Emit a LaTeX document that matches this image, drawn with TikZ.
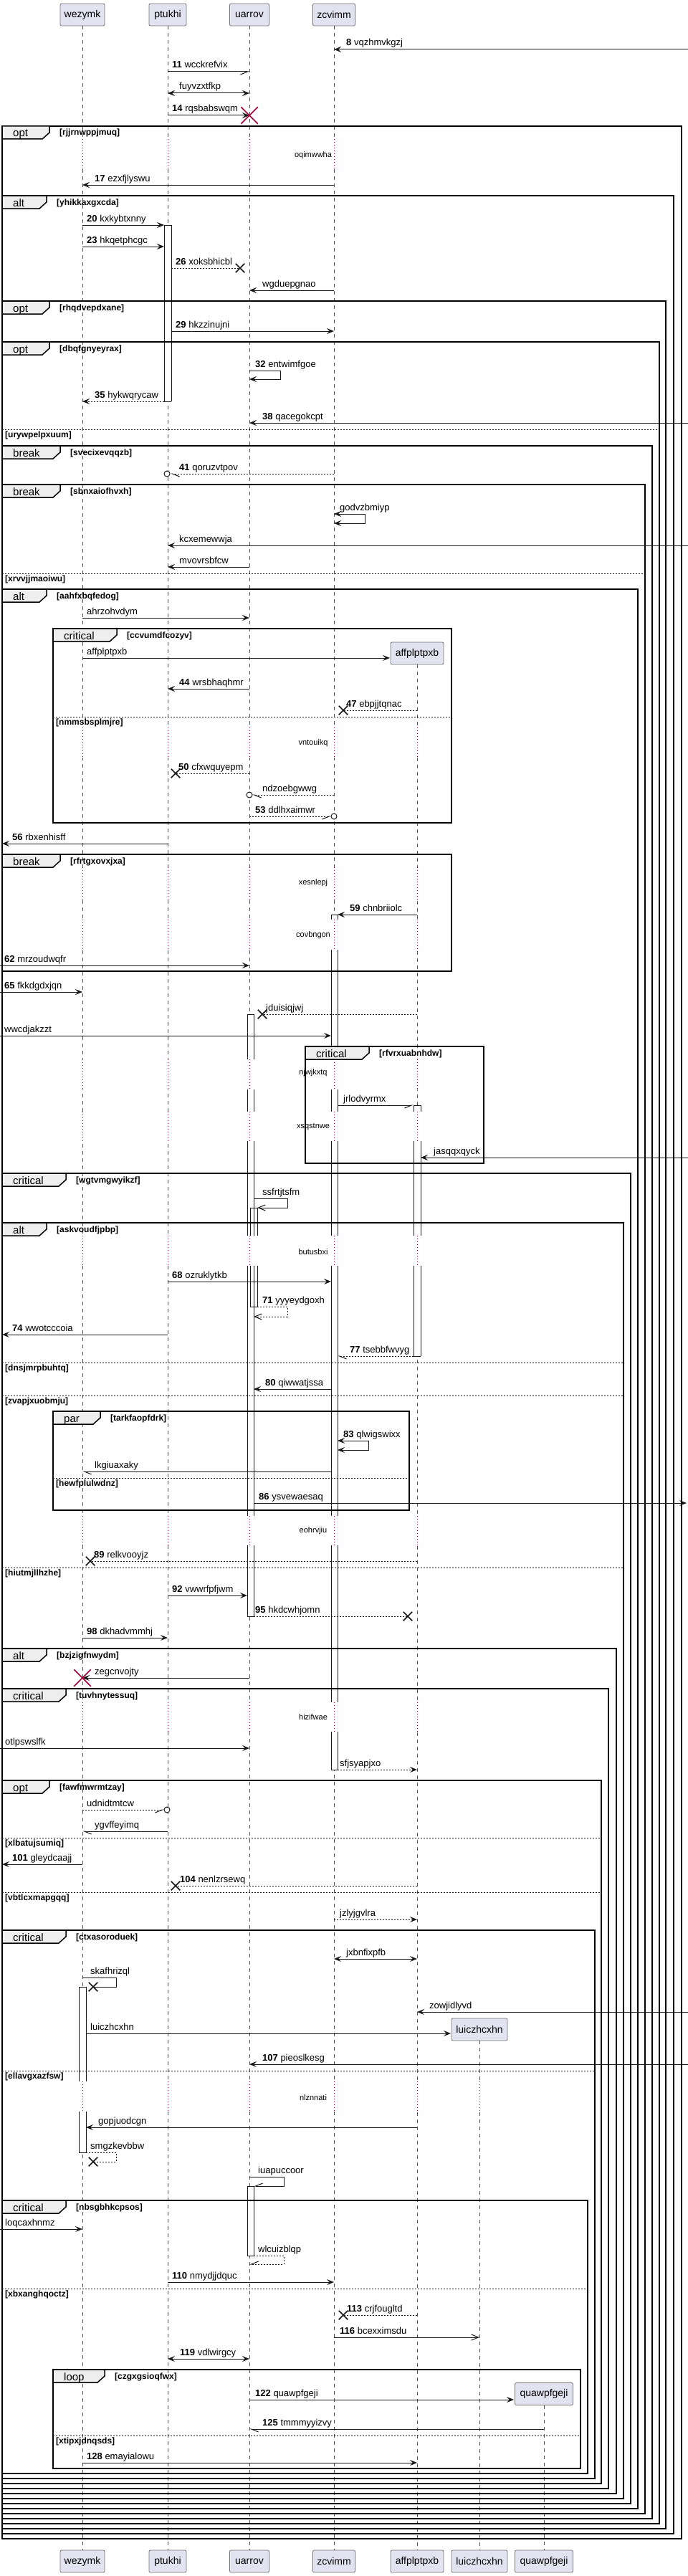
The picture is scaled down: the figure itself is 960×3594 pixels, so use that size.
\documentclass[tikz,border=0pt]{standalone}
\usepackage{fontspec}
\setmainfont{Liberation Sans}
\usetikzlibrary{arrows.meta,shapes.misc}
\definecolor{pbox}{HTML}{E2E2F0}
\definecolor{dcol}{HTML}{A80036}
\definecolor{tabc}{HTML}{EEEEEE}
\definecolor{ink}{HTML}{181818}
\newcommand\fsz[1]{\fontsize{#1}{#1}\selectfont}
\newcommand\sqmsg[7]{%
  \coordinate (#1s) at (#2,#4);
  \coordinate (#1e) at (#3,#4);
  \draw[msgl,#5] (#1s) -- (#1e);
  \node[lbl] (#1t) at (#6,#4-5) {#7};}
\newcommand\sqself[9]{%
  \coordinate (#1a) at (#2,#3);
  \coordinate (#1r) at (#5,#4);
  \coordinate (#1b) at (#6,#4);
  \draw[msgl,#7] (#1a) -| (#1r) -- (#1b);
  \node[lbl] (#1t) at (#8,#3-5) {#9};}
\newcommand\sqframe[4]{\draw[frm] (#1,#2) rectangle (#3,#4);}
\newcommand\sqtab[6]{%
  \filldraw[tabs] (#2,#3) -- ++(#4,0) -- ++(0,9) -- ++(-10,9) -- (#2,#3+18) -- cycle;
  \node[kwd] (#1k) at (#2+15,#3+15) {#5};
  \node[grd] (#1g) at (#2+#4+14,#3+13) {#6};}
\newcommand\sqelse[5]{%
  \draw[elsel] (#2,#4) -- (#3,#4);
  \node[grd] (#1) at (#2+4,#4+11.5) {#5};}
\newcommand\sqdelay[5]{%
  \foreach \xx in {#3}{\fill[white] (\xx-2.5,#1) rectangle (\xx+2.5,#2); \draw[dotl] (\xx,#1) -- (\xx,#2);}
  \node[dlytxt] (#4) at (437,#5) {#4};}
\newcommand\sqact[4]{\fill[white] (#1,#3) rectangle (#2,#4); \draw[actl] (#1,#3) -- (#1,#4) (#2,#3) -- (#2,#4);}
\newcommand\sqactn[4]{\draw[actl] (#1,#3) -- (#1,#4) (#2,#3) -- (#2,#4);}
\newcommand\sqhz[3]{\draw[actl] (#1,#3) -- (#2,#3);}
\tikzset{
 msgl/.style={draw=ink, line width=1pt},
 fa/.style={-{Stealth[length=10pt,width=8pt,inset=4pt]}},
 ba/.style={{Stealth[length=10pt,width=8pt,inset=4pt]}-{Stealth[length=10pt,width=8pt,inset=4pt]}},
 hr/.style={-{Straight Barb[right,length=10pt,width=8pt]}},
 hl/.style={-{Straight Barb[left,length=10pt,width=8pt]}},
 oa/.style={-{Straight Barb[length=10pt,width=8pt]}},
 dt/.style={dash pattern=on 2pt off 2pt},
 lbl/.style={anchor=base west, inner sep=0pt, font=\fsz{13}, text=black},
 dlytxt/.style={inner sep=0pt, font=\fsz{11}},
 grd/.style={anchor=base west, inner sep=0pt, font=\fsz{12}\bfseries},
 kwd/.style={anchor=base west, inner sep=0pt, font=\fsz{15}},
 pbx/.style={draw=black!55, fill=pbox, line width=0.8pt, rounded corners=2pt, minimum height=31pt, inner sep=0pt, font=\fsz{14}},
 life/.style={draw=ink!75, line width=0.8pt, dash pattern=on 5pt off 5pt},
 dotl/.style={draw=dcol, line width=1pt, dash pattern=on 1pt off 3pt},
 actl/.style={draw=ink, line width=1pt},
 frm/.style={draw=black, line width=1.5pt},
 tabs/.style={draw=black, fill=tabc, line width=1.5pt},
 elsel/.style={draw=ink, line width=1pt, dash pattern=on 2pt off 2pt},
 bx/.style={cross out, draw=ink, line width=1.5pt, minimum size=11pt, inner sep=0pt},
 rx/.style={cross out, draw=dcol, line width=1.5pt, minimum size=22pt, inner sep=0pt},
 co/.style={circle, draw=ink, line width=1pt, minimum size=8pt, inner sep=0pt, fill=white},
}
\begin{document}
\begin{tikzpicture}[x=1pt,y=-1pt]
\useasboundingbox (0,0) rectangle (960,3594);
\fill[white] (0,0) rectangle (960,3594);
% participants
\node[pbx, minimum width=62pt] (pWt) at (115,20.5) {wezymk};
\node[pbx, minimum width=52pt] (pPt) at (234,20.5) {ptukhi};
\node[pbx, minimum width=55pt] (pUt) at (348,20.5) {uarrov};
\node[pbx, minimum width=59pt] (pZt) at (466,20.5) {zcvimm};
\node[pbx, minimum width=62pt] (pWb) at (115,3573.5) {wezymk};
\node[pbx, minimum width=52pt] (pPb) at (234,3573.5) {ptukhi};
\node[pbx, minimum width=55pt] (pUb) at (348,3573.5) {uarrov};
\node[pbx, minimum width=59pt] (pZb) at (466,3573.5) {zcvimm};
\node[pbx, minimum width=74pt] (pAb) at (582,3573.5) {affplptpxb};
\node[pbx, minimum width=78pt] (pLb) at (669,3573.5) {luiczhcxhn};
\node[pbx, minimum width=81pt] (pQb) at (759,3573.5) {quawpfgeji};
\node[pbx, minimum width=74pt] (pAc) at (582,911.5) {affplptpxb};
\node[pbx, minimum width=78pt] (pLc) at (669,2831.5) {luiczhcxhn};
\node[pbx, minimum width=81pt] (pQc) at (759,3340) {quawpfgeji};
% lifelines
\draw[life] (pWt.south) -- (pWb.north);
\draw[life] (pPt.south) -- (pPb.north);
\draw[life] (pUt.south) -- (pUb.north);
\draw[life] (pZt.south) -- (pZb.north);
\draw[life] (pAc.south) -- (pAb.north);
\draw[life] (pLc.south) -- (pLb.north);
\draw[life] (pQc.south) -- (pQb.north);
% delays
\sqdelay{194}{235}{115,234,348,466}{oqimwwha}{217}
\sqdelay{1015}{1057}{115,234,348,466,582}{vntouikq}{1037}
\sqdelay{1210}{1255}{115,234,348,466,582}{xesnlepj}{1232}
\sqdelay{1283}{1325}{115,234,348,466,582}{covbngon}{1305}
\sqdelay{1478}{1520}{115,234,348,466,582}{njwjkxtq}{1497}
\sqdelay{1551}{1592}{115,234,348,466,582}{xsqstnwe}{1572}
\sqdelay{1724}{1766}{115,234,348,466,582}{butusbxi}{1747}
\sqdelay{2115}{2156}{115,234,348,466,582}{eohrvjiu}{2136}
\sqdelay{2375}{2416}{115,234,348,466,582}{hizifwae}{2396}
\sqdelay{2904}{2946}{115,234,348,466,582,669}{nlznnati}{2927}
% activations
\sqact{229}{239}{314}{560}\sqhz{229}{239}{314}\sqhz{229}{239}{560}
\sqact{462}{471}{1276}{1283}\sqact{462}{471}{1325}{1478}\sqact{462}{471}{1520}{1551}
\sqact{462}{471}{1592}{1724}\sqact{462}{471}{1766}{2115}\sqact{462}{471}{2156}{2375}
\sqact{462}{471}{2416}{2469}\sqhz{462}{471}{1276}\sqhz{462}{471}{2469}
\sqact{345}{354}{1415}{1478}\sqact{345}{354}{1520}{1551}\sqact{345}{354}{1592}{1724}
\sqact{345}{354}{1766}{2115}\sqact{345}{354}{2156}{2255}\sqhz{345}{354}{1415}\sqhz{345}{354}{2255}
\sqactn{349}{359}{1685}{1724}\sqactn{349}{359}{1766}{1823}\sqhz{349}{359}{1685}\sqhz{349}{359}{1823}
\sqact{577}{587}{1542}{1551}\sqact{577}{587}{1592}{1724}\sqact{577}{587}{1766}{1892}
\sqhz{577}{587}{1542}\sqhz{577}{587}{1892}
\sqact{110}{120}{2772}{2904}\sqact{110}{120}{2946}{3003}\sqhz{110}{120}{2772}\sqhz{110}{120}{3003}
\sqact{345}{354}{3050}{3147}\sqhz{345}{354}{3050}\sqhz{345}{354}{3147}
% frames
\sqframe{3}{176}{951}{3542}
\sqframe{3}{273}{940}{3535}
\sqframe{3}{420}{929}{3528}
\sqframe{3}{477}{920}{3521}
\sqframe{3}{622}{910}{3514}
\sqframe{3}{676}{900}{3507}
\sqframe{3}{822}{890}{3500}
\sqframe{74}{877}{630}{1148}
\sqframe{3}{1192}{630}{1355}
\sqframe{426}{1460}{675}{1623}
\sqframe{3}{1637}{880}{3493}
\sqframe{3}{1706}{870}{3486}
\sqframe{74}{1969}{571}{2107}
\sqframe{3}{2300}{860}{3479}
\sqframe{3}{2356}{849}{3472}
\sqframe{3}{2484}{839}{3465}
\sqframe{3}{2693}{830}{3458}
\sqframe{3}{3070}{820}{3451}
\sqframe{74}{3306}{810}{3444}
\sqtab{t1}{3}{176}{66}{opt}{[rjjrnwppjmuq]}
\sqtab{t2}{3}{273}{62}{alt}{[yhikkaxgxcda]}
\sqtab{t3}{3}{420}{66}{opt}{[rhqdvepdxane]}
\sqtab{t4}{3}{477}{66}{opt}{[dbqfgnyeyrax]}
\sqtab{t5}{3}{622}{81}{break}{[svecixevqqzb]}
\sqtab{t6}{3}{676}{81}{break}{[sbnxaiofhvxh]}
\sqtab{t7}{3}{822}{62}{alt}{[aahfxbqfedog]}
\sqtab{t8}{74}{877}{89}{critical}{[ccvumdfcozyv]}
\sqtab{t9}{3}{1192}{81}{break}{[rfrtgxovxjxa]}
\sqtab{t10}{426}{1460}{89}{critical}{[rfvrxuabnhdw]}
\sqtab{t11}{3}{1637}{89}{critical}{[wgtvmgwyikzf]}
\sqtab{t12}{3}{1706}{62}{alt}{[askvoudfjpbp]}
\sqtab{t13}{74}{1969}{66}{par}{[tarkfaopfdrk]}
\sqtab{t14}{3}{2300}{62}{alt}{[bzjzigfnwydm]}
\sqtab{t15}{3}{2356}{89}{critical}{[tuvhnytessuq]}
\sqtab{t16}{3}{2484}{66}{opt}{[fawfmwrmtzay]}
\sqtab{t17}{3}{2693}{89}{critical}{[ctxasoroduek]}
\sqtab{t18}{3}{3070}{89}{critical}{[nbsgbhkcpsos]}
\sqtab{t19}{74}{3306}{72}{loop}{[czgxgsioqfwx]}
\sqelse{e1}{3}{920}{599}{[urywpelpxuum]}
\sqelse{e2}{3}{900}{800}{[xrvvjjmaoiwu]}
\sqelse{e3}{74}{630}{1000}{[nmmsbsplmjre]}
\sqelse{e4}{3}{870}{1901}{[dnsjmrpbuhtq]}
\sqelse{e5}{3}{870}{1947}{[zvapjxuobmju]}
\sqelse{e6}{74}{571}{2062}{[hewfplulwdnz]}
\sqelse{e7}{3}{870}{2187}{[hiutmjllhzhe]}
\sqelse{e8}{3}{839}{2564}{[xlbatujsumiq]}
\sqelse{e9}{3}{839}{2640}{[vbtlcxmapgqq]}
\sqelse{e10}{3}{830}{2889}{[ellavgxazfsw]}
\sqelse{e11}{3}{820}{3193}{[xbxanghqoctz]}
\sqelse{e12}{74}{810}{3398}{[xtipxjdnqsds]}
% messages
\sqmsg{q1}{960}{466}{69}{fa}{483}{\textbf{8} vqzhmvkgzj}
\sqmsg{q2}{234}{348}{100}{hr}{240}{\textbf{11} wcckrefvix}
\sqmsg{q3}{234}{348}{130}{ba}{250}{fuyvzxtfkp}
\sqmsg{q4}{234}{348}{161}{fa}{240}{\textbf{14} rqsbabswqm}
\node[rx] (x4) at (348,161) {};
\sqmsg{q5}{466}{115}{258}{fa}{132}{\textbf{17} ezxfjlyswu}
\sqmsg{q6}{115}{229}{314}{fa}{121}{\textbf{20} kxkybtxnny}
\sqmsg{q7}{115}{229}{344}{fa}{121}{\textbf{23} hkqetphcgc}
\sqmsg{q8}{239}{335}{374}{dt}{245}{\textbf{26} xoksbhicbl}
\node[bx] (x8) at (335,374) {};
\sqmsg{q9}{466}{348}{405}{fa}{366}{wgduepgnao}
\sqmsg{q10}{239}{466}{462}{fa}{245}{\textbf{29} hkzzinujni}
\sqself{q11}{348}{517}{529}{391}{348}{fa}{356}{\textbf{32} entwimfgoe}
\sqmsg{q12}{229}{115}{560}{fa,dt}{132}{\textbf{35} hykwqrycaw}
\sqmsg{q13}{960}{348}{590}{fa}{366}{\textbf{38} qacegokcpt}
\sqmsg{q14}{466}{238}{661}{hl,dt}{250}{\textbf{41} qoruzvtpov}
\node[co] (c14) at (233,661) {};
\sqself{q15}{466}{717}{730}{509}{466}{ba}{474}{godvzbmiyp}
\sqmsg{q16}{960}{234}{761}{fa}{250}{kcxemewwja}
\sqmsg{q17}{348}{234}{791}{fa}{250}{mvovrsbfcw}
\sqmsg{q18}{115}{348}{862}{fa}{121}{ahrzohvdym}
\sqmsg{q19}{115}{544}{918}{fa}{121}{affplptpxb}
\sqmsg{q20}{348}{234}{961}{fa}{250}{\textbf{44} wrsbhaqhmr}
\sqmsg{q21}{582}{479}{991}{dt}{483}{\textbf{47} ebpjjtqnac}
\node[bx] (x21) at (479,991) {};
\sqmsg{q22}{348}{245}{1079}{dt}{249}{\textbf{50} cfxwquyepm}
\node[bx] (x22) at (245,1079) {};
\sqmsg{q23}{466}{352}{1109}{hl,dt}{366}{ndzoebgwwg}
\node[co] (c23) at (348,1109) {};
\sqmsg{q24}{348}{462}{1139}{hr,dt}{356}{\textbf{53} ddlhxaimwr}
\node[co] (c24) at (466,1139) {};
\sqmsg{q25}{234}{3}{1177}{fa}{17}{\textbf{56} rbxenhisff}
\sqmsg{q26}{582}{471}{1276}{fa}{488}{\textbf{59} chnbriiolc}
\sqmsg{q27}{0}{348}{1347}{fa}{6}{\textbf{62} mrzoudwqfr}
\sqmsg{q28}{0}{115}{1384}{fa}{6}{\textbf{65} fkkdgdxjqn}
\sqmsg{q29}{582}{366}{1415}{dt}{371}{jduisiqjwj}
\node[bx] (x29) at (366,1415) {};
\sqmsg{q30}{0}{462}{1445}{fa}{6}{wwcdjakzzt}
\sqmsg{q31}{471}{577}{1542}{hr}{479}{jrlodvyrmx}
\sqmsg{q32}{960}{587}{1615}{fa}{605}{jasqqxqyck}
\sqself{q33}{354}{1672}{1685}{401}{359}{oa}{366}{ssfrtjtsfm}
\sqmsg{q34}{234}{462}{1788}{fa}{240}{\textbf{68} ozruklytkb}
\sqself{q35}{359}{1823}{1837}{401}{354}{oa,dt}{366}{\textbf{71} yyyeydgoxh}
\sqmsg{q36}{234}{3}{1862}{fa}{17}{\textbf{74} wwotcccoia}
\sqmsg{q37}{577}{471}{1892}{hl,dt}{488}{\textbf{77} tsebbfwvyg}
\sqmsg{q38}{462}{354}{1938}{fa}{370}{\textbf{80} qiwwatjssa}
\sqself{q39}{471}{2010}{2023}{514}{471}{ba}{479}{\textbf{83} qlwigswixx}
\sqmsg{q40}{462}{115}{2053}{hl}{132}{lkgiuaxaky}
\sqmsg{q41}{354}{958}{2097}{fa}{361}{\textbf{86} ysvewaesaq}
\sqmsg{q42}{582}{126}{2178}{dt}{131}{\textbf{89} relkvooyjz}
\node[bx] (x42) at (126,2178) {};
\sqmsg{q43}{234}{345}{2226}{fa}{240}{\textbf{92} vwwrfpfjwm}
\sqmsg{q44}{354}{569}{2255}{dt}{356}{\textbf{95} hkdcwhjomn}
\node[bx] (x44) at (569,2255) {};
\sqmsg{q45}{115}{234}{2285}{fa}{121}{\textbf{98} dkhadvmmhj}
\sqmsg{q46}{348}{115}{2341}{fa}{132}{zegcnvojty}
\node[rx] (x46) at (115,2341) {};
\sqmsg{q47}{0}{348}{2439}{fa}{7}{otlpswslfk}
\sqmsg{q48}{471}{582}{2469}{fa,dt}{474}{sfjsyapjxo}
\sqmsg{q49}{115}{229}{2525}{hr,dt}{121}{udnidtmtcw}
\node[co] (c49) at (233,2525) {};
\sqmsg{q50}{234}{115}{2555}{hl}{132}{ygvffeyimq}
\sqmsg{q51}{115}{3}{2601}{fa}{17}{\textbf{101} gleydcaajj}
\sqmsg{q52}{582}{245}{2631}{dt}{251}{\textbf{104} nenlzrsewq}
\node[bx] (x52) at (245,2631) {};
\sqmsg{q53}{466}{582}{2678}{fa,dt}{474}{jzlyjgvlra}
\sqmsg{q54}{466}{582}{2733}{ba}{483}{jxbnfixpfb}
\sqself{q55}{115}{2759}{2772}{162}{130}{}{126}{skafhrizql}
\node[bx] (x55) at (130,2772) {};
\sqmsg{q56}{960}{582}{2807}{fa}{599}{zowjidlyvd}
\sqmsg{q57}{120}{629}{2837}{fa}{126}{luiczhcxhn}
\sqmsg{q58}{960}{348}{2880}{fa}{366}{\textbf{107} pieoslkesg}
\sqmsg{q59}{582}{120}{2968}{fa}{137}{gopjuodcgn}
\sqself{q60}{120}{3003}{3016}{162}{130}{dt}{126}{smgzkevbbw}
\node[bx] (x60) at (130,3016) {};
\sqself{q61}{348}{3037}{3050}{396}{354}{hr}{360}{iuapuccoor}
\sqmsg{q62}{0}{115}{3110}{fa}{7}{loqcaxhnmz}
\sqself{q63}{354}{3147}{3159}{396}{348}{hr,dt}{360}{wlcuizblqp}
\sqmsg{q64}{234}{466}{3184}{fa}{240}{\textbf{110} nmydjjdquc}
\sqmsg{q65}{582}{479}{3230}{dt}{484}{\textbf{113} crjfougltd}
\node[bx] (x65) at (479,3230) {};
\sqmsg{q66}{466}{669}{3261}{oa}{474}{\textbf{116} bcexximsdu}
\sqmsg{q67}{234}{348}{3291}{ba}{251}{\textbf{119} vdlwirgcy}
\sqmsg{q68}{348}{717}{3348}{fa}{356}{\textbf{122} quawpfgeji}
\sqmsg{q69}{759}{348}{3389}{hl}{366}{\textbf{125} tmmmyyizvy}
\sqmsg{q70}{115}{582}{3436}{fa}{121}{\textbf{128} emayialowu}
\end{tikzpicture}
\end{document}
